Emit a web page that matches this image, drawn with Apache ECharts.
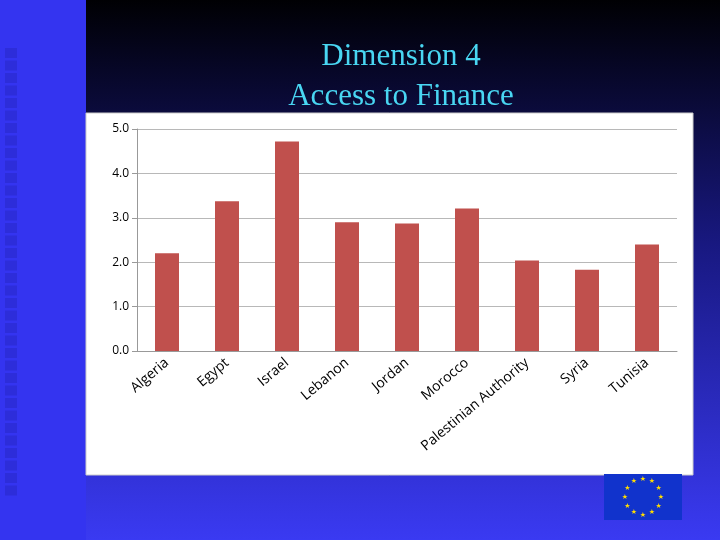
<!DOCTYPE html>
<html><head><meta charset="utf-8">
<script src="https://cdn.jsdelivr.net/npm/echarts@6/dist/echarts.min.js"></script>
<style>html,body{margin:0;padding:0;}#chart{width:720px;height:540px;}</style>
</head><body><div id="chart"></div>
<script>
const countries = ['Algeria', 'Egypt', 'Israel', 'Lebanon', 'Jordan', 'Morocco', 'Palestinian Authority', 'Syria', 'Tunisia'];
const scores = [2.2, 3.37, 4.72, 2.9, 2.87, 3.21, 2.04, 1.83, 2.4];
const yTicks = [0, 1, 2, 3, 4, 5];

const chart = echarts.init(document.getElementById('chart'));

// decorative slide background
const deco = [
  { type: 'rect', z: -10, shape: { x: 0, y: 0, width: 720, height: 540 },
    style: { fill: new echarts.graphic.LinearGradient(0, 0, 0, 1, [
      { offset: 0, color: '#000003' }, { offset: 0.45, color: '#181880' }, { offset: 1, color: '#3a3af2' }]) } },
  { type: 'rect', z: -9, shape: { x: 0, y: 0, width: 86, height: 540 },
    style: { fill: '#3434f0' } },
  { type: 'rect', z: -8, shape: { x: 86, y: 113, width: 607, height: 362 },
    style: { fill: '#ffffff', stroke: '#cccccc' } },
  { type: 'rect', z: -8, shape: { x: 604, y: 474, width: 78, height: 46 },
    style: { fill: '#1133cc' } }
];
for (let y = 48; y < 495; y += 12.5) {
  deco.push({ type: 'rect', z: -8, shape: { x: 5, y: y, width: 12, height: 10 },
    style: { fill: 'rgba(40,40,200,0.55)' } });
}
for (let i = 0; i < 12; i++) {
  const a = i / 12 * Math.PI * 2;
  deco.push({ type: 'text', z: -7, style: { text: '★', x: 643 + 18 * Math.sin(a), y: 497 - 18 * Math.cos(a),
    fill: '#ffdd00', font: '7px DejaVu Sans', align: 'center', verticalAlign: 'middle' } });
}

chart.setOption({
  animation: false,
  title: {
    text: 'Dimension 4\nAccess to Finance', left: 396, top: 32, textAlign: 'center',
    textStyle: { color: '#49d6f2', fontFamily: 'Liberation Serif', fontSize: 31, fontWeight: 'normal', lineHeight: 40 }
  },
  graphic: deco,
  grid: { left: 137, right: 43, top: 129, bottom: 189 },
  xAxis: {
    type: 'category', data: countries,
    axisLine: { lineStyle: { color: '#999' } }, axisTick: { show: false },
    axisLabel: { rotate: 40, interval: 0, color: '#000', fontFamily: 'Open Sans', fontSize: 14, margin: 10 }
  },
  yAxis: {
    type: 'value', min: 0, max: 5, interval: 1,
    axisLine: { show: true, lineStyle: { color: '#999' } }, axisTick: { show: true, lineStyle: { color: '#999' } },
    splitLine: { lineStyle: { color: '#b8b8b8' } },
    axisLabel: { color: '#000', fontFamily: 'Open Sans', fontSize: 12,
      formatter: v => yTicks.includes(v) ? v.toFixed(1) : '' }
  },
  series: [{ type: 'bar', data: scores, barWidth: 24, itemStyle: { color: '#c0504d' } }]
});
</script></body></html>
